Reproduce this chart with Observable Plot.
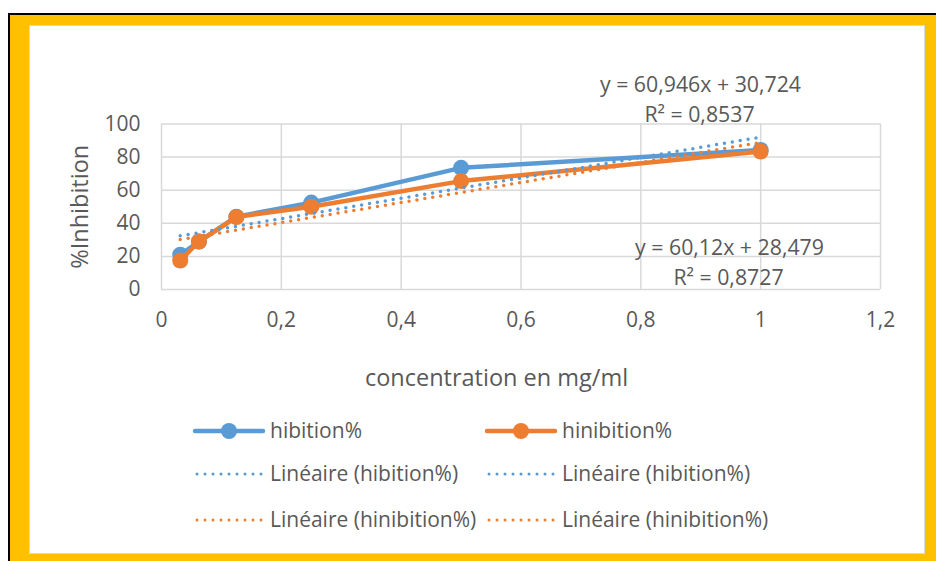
<!DOCTYPE html>
<html>
<head>
<meta charset="utf-8">
<script src="https://cdn.jsdelivr.net/npm/d3@7"></script>
<script src="https://cdn.jsdelivr.net/npm/@observablehq/plot@0.6"></script>
<style>
  html, body { margin: 0; padding: 0; background: #fff; }
  #wrap { position: relative; width: 936px; height: 561px; overflow: hidden; font-family: "Open Sans", sans-serif; }
  #gold { position: absolute; left: 8px; top: 12.5px; width: 930px; height: 550px; background: #FFC000; border-top: 2px solid #000; border-left: 2px solid #000; box-sizing: border-box; }
  #panel { position: absolute; left: 29px; top: 25px; width: 896px; height: 529px; background: #fff; border: 1px solid #d9d9d9; box-sizing: border-box; }
  #chart, #legend { position: absolute; left: 0; top: 0; }
</style>
</head>
<body>
<div id="wrap">
  <div id="gold"></div>
  <div id="panel"></div>
  <div id="chart"></div>
  <svg id="legend" width="936" height="561"></svg>
</div>
<script>
// ---- data ----
const concentrations = [0.03125, 0.0625, 0.125, 0.25, 0.5, 1];
const hibition = [21, 29, 44, 52.5, 73.5, 84.3];
const hinibition = [17.5, 29, 43.8, 50, 65.5, 83.4];
const seriesNames = ["hibition%", "hinibition%"];
const seriesColors = ["#5B9BD5", "#ED7D31"];
const xTicks = [0, 0.2, 0.4, 0.6, 0.8, 1, 1.2];
const yTicks = [0, 20, 40, 60, 80, 100];
const xLabel = "concentration en mg/ml";
const yLabel = "%Inhibition";
const equations = [
  {series: "hibition%", eq: "y = 60,946x + 30,724", r2: "R² = 0,8537"},
  {series: "hinibition%", eq: "y = 60,12x + 28,479", r2: "R² = 0,8727"}
];
const legendItems = [
  {label: "hibition%", color: "#5B9BD5", kind: "line"},
  {label: "hinibition%", color: "#ED7D31", kind: "line"},
  {label: "Linéaire (hibition%)", color: "#5B9BD5", kind: "dot"},
  {label: "Linéaire (hibition%)", color: "#5B9BD5", kind: "dot"},
  {label: "Linéaire (hinibition%)", color: "#ED7D31", kind: "dot"},
  {label: "Linéaire (hinibition%)", color: "#ED7D31", kind: "dot"}
];

const valuesBySeries = [hibition, hinibition];
const data = seriesNames.flatMap((s, i) => concentrations.map((c, j) => ({series: s, x: c, y: valuesBySeries[i][j]})));
const fmt = d => String(d).replace(".", ",");
const FONT = "'Open Sans', sans-serif";
const TXT = "#595959";

const seriesMarks = seriesNames.flatMap(s => {
  const d = data.filter(r => r.series === s);
  return [
    Plot.line(d, {x: "x", y: "y", stroke: "series", strokeWidth: 4.5, strokeLinejoin: "round", strokeLinecap: "round"}),
    Plot.dot(d, {x: "x", y: "y", fill: "series", r: 8, stroke: "none"})
  ];
});
const trendMarks = seriesNames.map(s =>
  Plot.linearRegressionY(data.filter(r => r.series === s), {x: "x", y: "y", stroke: "series", ci: 0, strokeWidth: 3.5, strokeDasharray: "0 8", strokeLinecap: "round"})
);

const chart = Plot.plot({
  width: 936, height: 561,
  marginLeft: 161, marginRight: 56, marginTop: 123.5, marginBottom: 272,
  x: {domain: [0, 1.2]},
  y: {domain: [0, 100]},
  color: {domain: seriesNames, range: seriesColors},
  style: {fontFamily: FONT, fontSize: "21px", color: TXT, background: "transparent", overflow: "visible"},
  marks: [
    Plot.gridX(xTicks, {stroke: "#d9d9d9", strokeOpacity: 1, strokeWidth: 1.5}),
    Plot.gridY(yTicks, {stroke: "#d9d9d9", strokeOpacity: 1, strokeWidth: 1.5}),
    Plot.axisX(xTicks, {tickSize: 0, tickPadding: 23, tickFormat: fmt, label: null, fill: TXT}),
    Plot.axisY(yTicks, {tickSize: 0, tickPadding: 21, tickFormat: fmt, label: null, fill: TXT}),
    Plot.text([yLabel], {frameAnchor: "left", textAnchor: "middle", rotate: -90, dx: -81, fill: TXT, fontSize: 23.5}),
    Plot.text([xLabel], {frameAnchor: "bottom", textAnchor: "middle", dx: -24.5, dy: 96, fill: TXT, fontSize: 23.5}),
    ...seriesMarks,
    ...trendMarks,
    Plot.text(equations.filter(e => e.series === "hibition%"), {frameAnchor: "top-right", text: "eq", dx: -180, dy: -47.5, fill: TXT, textAnchor: "middle", fontSize: 21.3}),
    Plot.text(equations.filter(e => e.series === "hibition%"), {frameAnchor: "top-right", text: "r2", dx: -181, dy: -17, fill: TXT, textAnchor: "middle", fontSize: 21.3}),
    Plot.text(equations.filter(e => e.series === "hinibition%"), {frameAnchor: "bottom-right", text: "eq", dx: -151, dy: -35, fill: TXT, textAnchor: "middle", fontSize: 21.3}),
    Plot.text(equations.filter(e => e.series === "hinibition%"), {frameAnchor: "bottom-right", text: "r2", dx: -152, dy: -5, fill: TXT, textAnchor: "middle", fontSize: 21.3})
  ]
});
document.getElementById("chart").appendChild(chart);

// ---- legend ----
const leg = d3.select("#legend").style("font-family", FONT).style("font-size", "21px");
const colX = [195, 487];
const rowY = [431, 474, 520];
legendItems.forEach((it, i) => {
  const x0 = colX[i % 2], y0 = rowY[Math.floor(i / 2)];
  const g = leg.append("g").attr("transform", `translate(${x0},${y0})`);
  if (it.kind === "line") {
    g.append("line").attr("x1", 0).attr("x2", 68).attr("y1", 0).attr("y2", 0)
      .attr("stroke", it.color).attr("stroke-width", 4.5).attr("stroke-linecap", "round");
    g.append("circle").attr("cx", 34).attr("cy", 0).attr("r", 8).attr("fill", it.color);
  } else {
    g.append("line").attr("x1", 2).attr("x2", 68).attr("y1", 0).attr("y2", 0)
      .attr("stroke", it.color).attr("stroke-width", 3).attr("stroke-dasharray", "0 8").attr("stroke-linecap", "round");
  }
  g.append("text").attr("x", 75).attr("y", 0).attr("dy", "0.35em").attr("fill", TXT).text(it.label);
});
</script>
</body>
</html>
